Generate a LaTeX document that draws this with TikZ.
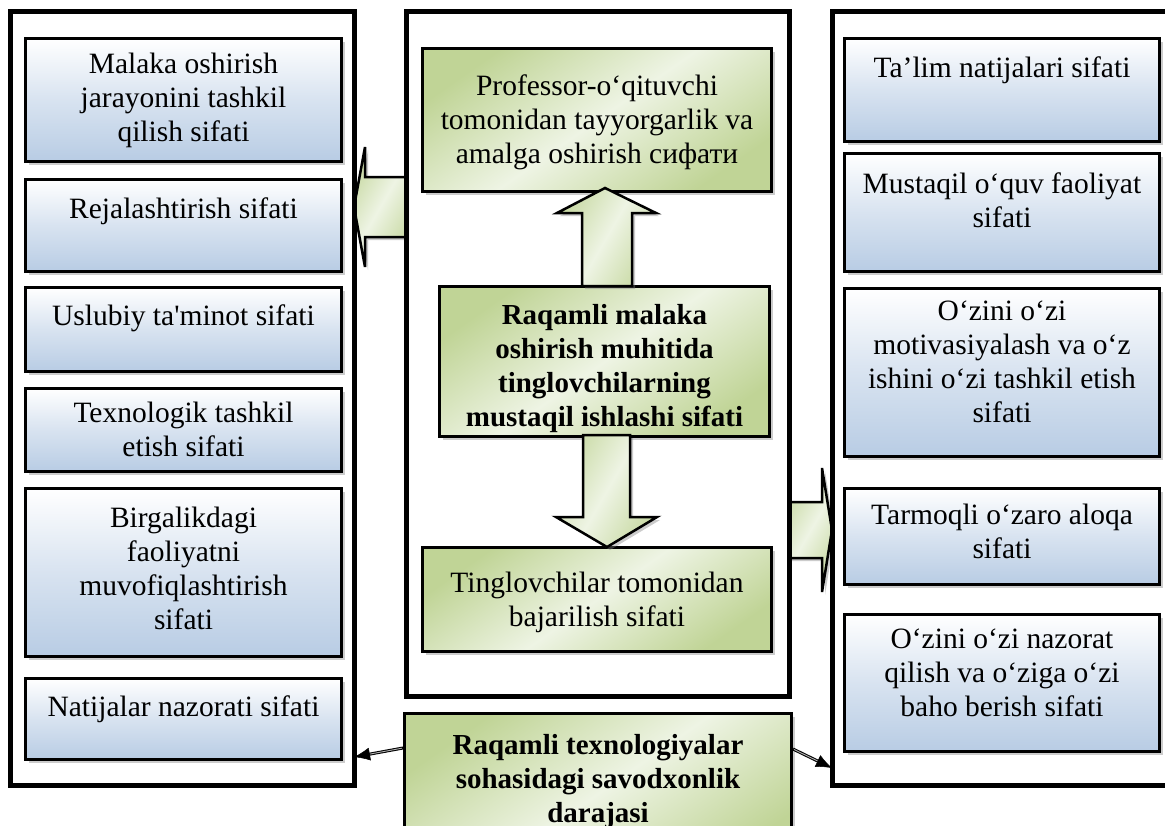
\documentclass[tikz,border=0pt]{standalone}
\usepackage{fontspec}
\setmainfont{Liberation Serif}[Ligatures=TeXOff]
\usetikzlibrary{shadows,arrows.meta,calc}
\definecolor{bB}{RGB}{184,204,228}
\definecolor{gD}{RGB}{192,212,150}
\definecolor{gL}{RGB}{238,244,228}
\newcommand\bxt[4]{\parbox[b][#2][t]{#1}{\vspace*{#3}\centering #4\par}}
\newcommand\bfx{\fontsize{29}{34}\selectfont\bfseries}
\begin{document}
\begin{tikzpicture}[x=1pt,y=-1pt,
  every node/.style={font=\fontsize{29.5}{34}\selectfont},
  outerbox/.style={draw=black, line width=5pt},
  sh/.style={drop shadow={shadow xshift=3pt,shadow yshift=-3pt,opacity=0.4}},
  bluebox/.style={sh, draw=black, line width=3pt, inner sep=0pt, anchor=north west,
    top color=white, bottom color=bB, middle color=white!45!bB},
  greenbox/.style={sh, draw=black, line width=3pt, inner sep=0pt, anchor=north west,
    top color=gD, bottom color=gD, middle color=gL, shading angle=35},
  blockarrow/.style={sh, draw=black, line width=2.5pt, line join=miter,
    top color=gD!85!white, bottom color=gD!85!white, middle color=gL, shading angle=60},
  conn/.style={draw=black, line width=3pt, shorten >=14pt},
  conninner/.style={draw=white!70!black, line width=0.9pt, shorten >=14pt, shorten <=1pt},
  conntip/.style={draw=black, fill=black, line width=0.5pt,
    shorten >=0pt, -{Latex[length=16pt,width=13pt]}}]
\useasboundingbox (0,0) rectangle (1165,825);
\fill[white] (0,0) rectangle (1165,825);
\clip (0,0) rectangle (1165,825);

% horizontal block arrows (under the outer frames)
\draw[blockarrow] (406,177) -- (365,177) -- (365,147) -- (354,207) -- (365,267) -- (365,237) -- (406,237) -- cycle;
\draw[blockarrow] (789,502) -- (822,502) -- (822,468) -- (832,530) -- (822,592) -- (822,558) -- (789,558) -- cycle;

% outer frames
\draw[outerbox] (10,11) rectangle (354,785);
\draw[outerbox] (406,11) rectangle (789,696);
\draw[outerbox] (832,11) rectangle (1168,785);

% left column
\node[bluebox] (l1) at (24,37)  {\bxt{316pt}{123pt}{15pt}{Malaka oshirish\\jarayonini tashkil\\qilish sifati}};
\node[bluebox] (l2) at (24,178) {\bxt{316pt}{92pt}{18pt}{Rejalashtirish sifati}};
\node[bluebox] (l3) at (24,286) {\bxt{316pt}{84pt}{17pt}{Uslubiy ta'minot sifati}};
\node[bluebox] (l4) at (24,387) {\bxt{316pt}{83pt}{14pt}{Texnologik tashkil\\etish sifati}};
\node[bluebox] (l5) at (24,487) {\bxt{316pt}{168pt}{19pt}{Birgalikdagi\\faoliyatni\\muvofiqlashtirish\\sifati}};
\node[bluebox] (l6) at (24,677) {\bxt{316pt}{81pt}{17pt}{Natijalar nazorati sifati}};

% right column
\node[bluebox] (r1) at (843,37)  {\bxt{315pt}{103pt}{18pt}{Ta’lim natijalari sifati}};
\node[bluebox] (r2) at (843,152) {\bxt{315pt}{118pt}{19pt}{Mustaqil o‘quv faoliyat\\sifati}};
\node[bluebox] (r3) at (843,287) {\bxt{315pt}{168pt}{12pt}{O‘zini o‘zi\\motivasiyalash va o‘z\\ishini o‘zi tashkil etish\\sifati}};
\node[bluebox] (r4) at (843,487) {\bxt{315pt}{96pt}{16pt}{Tarmoqli o‘zaro aloqa\\sifati}};
\node[bluebox] (r5) at (843,613) {\bxt{315pt}{137pt}{14pt}{O‘zini o‘zi nazorat\\qilish va o‘ziga o‘zi\\baho berish sifati}};

% centre column
\node[greenbox] (top) at (421,47)  {\bxt{349pt}{143pt}{26pt}{Professor-o‘qituvchi\\tomonidan tayyorgarlik va\\amalga oshirish сифати}};
\node[greenbox] (main) at (438,285) {\bxt{330pt}{150pt}{18pt}{\bfx Raqamli malaka\\oshirish muhitida\\tinglovchilarning\\mustaqil ishlashi sifati}};
\node[greenbox] (low) at (421,546)  {\bxt{349pt}{104pt}{25pt}{Tinglovchilar tomonidan\\bajarilish sifati}};
\node[greenbox] (bot) at (403,712)  {\bxt{387pt}{160pt}{21pt}{\bfx Raqamli texnologiyalar\\sohasidagi savodxonlik\\darajasi}};

% vertical block arrows
\draw[blockarrow] (582,286) -- (582,213) -- (557,213) -- (605,188) -- (656,213) -- (632,213) -- (632,286) -- cycle;
\draw[blockarrow] (583,435) -- (583,517) -- (556,517) -- (607,547) -- (657,517) -- (630,517) -- (630,435) -- cycle;

% connectors from the bottom box
\coordinate (lt) at (354,757);
\coordinate (rt) at (832,768);
\coordinate (ls) at ([yshift=-36pt]bot.north west);
\coordinate (rs) at ([yshift=-37pt]bot.north east);
\draw[conn] (ls) -- (lt);
\draw[conninner] (ls) -- (lt);
\draw[conntip] ($(ls)!0.8!(lt)$) -- (lt);
\draw[conn] (rs) -- (rt);
\draw[conninner] (rs) -- (rt);
\draw[conntip] ($(rs)!0.8!(rt)$) -- (rt);
\end{tikzpicture}
\end{document}
